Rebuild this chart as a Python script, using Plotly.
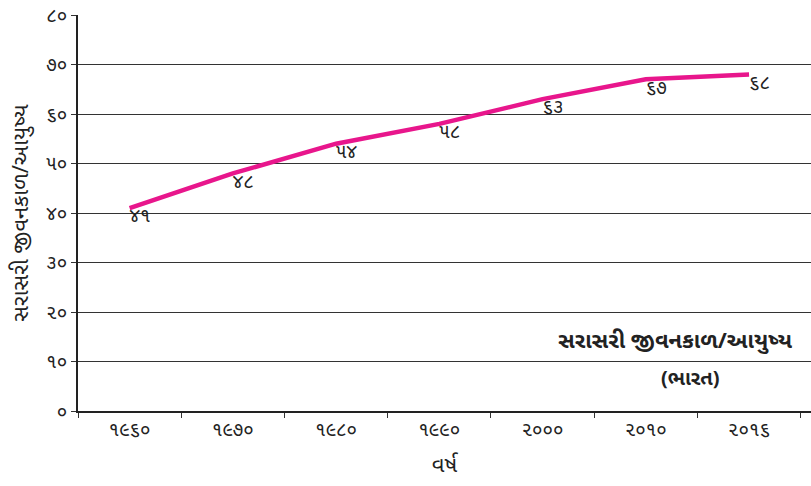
import plotly.graph_objects as go

years = ['૧૯૬૦', '૧૯૭૦', '૧૯૮૦', '૧૯૯૦', '૨૦૦૦', '૨૦૧૦', '૨૦૧૬']
life_exp = [41, 48, 54, 58, 63, 67, 68]
point_labels = ['૪૧', '૪૮', '૫૪', '૫૮', '૬૩', '૬૭', '૬૮']
y_tickvals = [0, 10, 20, 30, 40, 50, 60, 70, 80]
y_ticktext = ['૦', '૧૦', '૨૦', '૩૦', '૪૦', '૫૦', '૬૦', '૭૦', '૮૦']

font_fam = "Noto Sans Gujarati, Noto Sans, sans-serif"

fig = go.Figure()
fig.add_trace(go.Scatter(
    x=years, y=life_exp, mode='lines+text',
    line=dict(color='#E8168C', width=4.5),
    text=point_labels, textposition='bottom right',
    textfont=dict(size=19, color='#222'),
    showlegend=False, cliponaxis=False))

fig.add_annotation(x=0.978, y=0.132, xref='paper', yref='paper', xanchor='right',
                   yanchor='bottom', showarrow=False,
                   text='<b>સરાસરી જીવનકાળ/આયુષ્ય</b>', font=dict(size=22, color='#222'))
fig.add_annotation(x=0.835, y=0.117, xref='paper', yref='paper', xanchor='center',
                   yanchor='top', showarrow=False,
                   text='<b>(ભારત)</b>', font=dict(size=20, color='#222'))

fig.update_xaxes(type='category', tickson='boundaries', ticks='outside', ticklen=5,
                 tickcolor='#333', showline=True, linecolor='#222', linewidth=2,
                 showgrid=False, tickfont=dict(size=19, color='#222'), automargin=False,
                 title=dict(text='વર્ષ', font=dict(size=22, color='#222'), standoff=14),
                 range=[-0.5, 6.6])
fig.update_yaxes(range=[0, 80], tickvals=y_tickvals, ticktext=y_ticktext,
                 ticks='outside', ticklen=5, tickcolor='#333',
                 showline=True, linecolor='#222', linewidth=2,
                 showgrid=True, gridcolor='#333', gridwidth=1, zeroline=False,
                 tickfont=dict(size=19, color='#222'), automargin=False,
                 title=dict(text='સરાસરી જીવનકાળ/આયુષ્ય', font=dict(size=22, color='#222'), standoff=12))

fig.update_layout(width=811, height=486, margin=dict(l=78, r=0, t=15, b=75),
                  plot_bgcolor='white', paper_bgcolor='white',
                  font=dict(family=font_fam))

# drop the page's default body margin so the figure sits at the window corner
fig.write_html("out.html", config={'displayModeBar': False},
               post_script="document.body.style.margin='0';")
